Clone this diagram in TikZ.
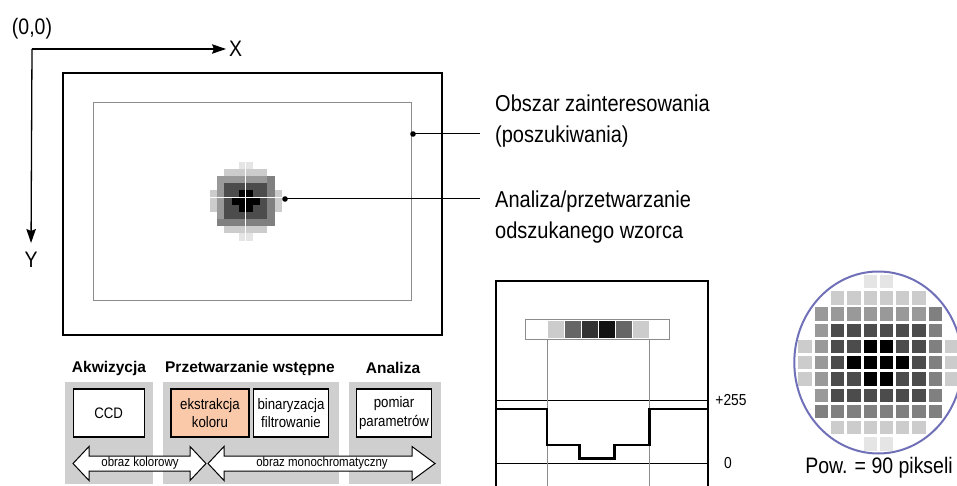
\documentclass[tikz,border=0pt]{standalone}
\usepackage{fontspec}
\setmainfont{Liberation Sans}
\newfontfamily\waski{Liberation Sans}[FakeStretch=0.87]
\usetikzlibrary{arrows.meta,calc}

\definecolor{kolor}{RGB}{250,201,170}
\definecolor{okrag}{RGB}{112,112,184}
\definecolor{panel}{RGB}{207,207,207}

% szarosci pikseli wzorca (0 = brak piksela), wiersz po wierszu
\newcommand{\wzorzec}{{0,0,0,0,10,10,0,0,0,0},{0,0,20,20,20,20,20,20,0,0},
  {0,40,40,40,40,40,40,40,50,0},{0,40,70,70,70,70,70,70,50,0},
  {20,40,70,70,100,100,70,70,50,20},{20,40,70,100,100,100,100,70,50,20},
  {20,40,70,70,100,100,70,70,50,20},{0,40,70,70,70,70,70,70,50,0},
  {0,50,50,50,50,50,50,50,50,0},{0,0,20,20,20,20,20,20,0,0},
  {0,0,0,0,10,10,0,0,0,0}}

\tikzset{
  os/.style={inner sep=0pt,font=\waski\fontsize{22.4}{26}\selectfont},
  lbl/.style={inner sep=0pt,align=left,font=\waski\fontsize{23}{31}\selectfont},
  skala/.style={inner sep=0pt,font=\waski\fontsize{15.9}{18}\selectfont},
  naglowek/.style={inner sep=0pt,font=\bfseries\fontsize{15.5}{18}\selectfont},
  blok/.style={draw,line width=1.2pt,fill=white,minimum height=48pt,inner sep=0pt,
    align=center,font=\waski\fontsize{15.2}{18.5}\selectfont},
  strz/.style={draw,fill=white,line width=1pt,line join=miter},
  opisstrz/.style={inner sep=0pt,font=\waski\fontsize{13.2}{15}\selectfont},
  kropka/.style={fill=black}
}

\begin{document}
\begin{tikzpicture}[x=1pt,y=-1pt]
  \useasboundingbox (0,0) rectangle (957,486);

  % osie ukladu
  \coordinate (o) at (32,49);
  \node[os] (poczatek) at (32,29) {(0,0)};
  \node[os,anchor=west] (osx) at (229,49) {X};
  \node[os,anchor=north] (osy) at (31,252) {Y};
  \draw[line width=1.3pt,-{Stealth[length=14pt,width=9.5pt,inset=2pt]},shorten >=3pt] (o) -- (osx.west);
  \draw[line width=1.3pt,-{Stealth[length=14pt,width=9.5pt,inset=2pt]},shorten >=9pt] (o) -- (osy.north);

  % obraz i obszar zainteresowania
  \draw[line width=2pt] (63,73) rectangle (442,335);
  \draw[black!45,line width=1pt] (93,103) rectangle (411,300);

  % odszukany wzorzec (male piksele)
  \foreach \wiersz [count=\r from 0] in \wzorzec {
    \foreach \g [count=\c from 0] in \wiersz {
      \ifnum\g>0
        \fill[black!\g] ({210+\c*7.17},{161.7+\r*7.17}) rectangle ++(7.17,7.17);
      \fi
    }
  }
  \draw[white,line width=0.8pt] (245.85,161.7) -- (245.85,240.5);
  \draw[white,line width=0.8pt] (210,197.55) -- (281.7,197.55);

  % opisy z odnosnikami
  \coordinate (obszar) at (413,134);
  \coordinate (wzor) at (285,199);
  \node[lbl,anchor=west] (opisobszar) at (495,121) {Obszar zainteresowania\\(poszukiwania)};
  \node[lbl,anchor=west] (opiswzor) at (495,217) {Analiza/przetwarzanie\\odszukanego wzorca};
  \draw[line width=1pt,shorten >=15pt] (obszar) -- (obszar -| opisobszar.west);
  \draw[line width=1pt,shorten >=15pt] (wzor) -- (wzor -| opiswzor.west);
  \fill[kropka] (obszar) circle (2.8);
  \fill[kropka] (wzor) circle (2.8);

  % profil jasnosci
  \draw[line width=1.3pt] (496,486) -- (496,281) -- (708,281) -- (708,486);
  \draw[line width=0.9pt] (496,400) -- (708,400);
  \draw[line width=0.9pt] (496,463) -- (708,463);
  \draw[black!45,line width=0.8pt] (547,339) -- (547,486);
  \draw[black!45,line width=0.8pt] (649.7,339) -- (649.7,486);
  \draw[black!45,line width=1pt,fill=white] (525,319) rectangle (669,339);
  \foreach \g [count=\i from 0] in {20,60,80,93,60,20}
    \fill[black!\g] ({547.5+\i*17},320.5) rectangle ++(16,17);
  \draw[line width=2.6pt] (496,409) -- (547,409) -- (547,445) -- (579.3,445) -- (579.3,458.3)
    -- (614.7,458.3) -- (614.7,445) -- (649.7,445) -- (649.7,409) -- (708,409);
  \node[skala] (maks) at (731,400) {+255};
  \node[skala] (zero) at (728,463) {0};

  % powiekszony wzorzec
  \foreach \wiersz [count=\r from 0] in \wzorzec {
    \foreach \g [count=\c from 0] in \wiersz {
      \ifnum\g>0
        \fill[black!\g] ({798.3+\c*16.3},{275+\r*16.23}) rectangle ++(13.3,13.3);
      \fi
    }
  }
  \draw[okrag,line width=2pt] (878.3,362.5) ellipse [x radius=84,y radius=91];
  \node[os] (pow) at (879,468) {Pow. = 90 pikseli};

  % etapy przetwarzania
  \node[naglowek] (akwizycja) at (109,368) {Akwizycja};
  \node[naglowek] (wstepne) at (250,368) {Przetwarzanie wstępne};
  \node[naglowek] (analiza) at (393,368) {Analiza};
  \fill[panel] (65,382) rectangle (153,484);
  \fill[panel] (163,382) rectangle (339,484);
  \fill[panel] (349,382) rectangle (441,484);
  \node[blok,minimum width=71pt] (ccd) at (108.7,413) {CCD};
  \node[blok,fill=kolor,minimum width=78pt] (ekstr) at (210,413) {ekstrakcja\\koloru};
  \node[blok,minimum width=75.5pt] (binar) at (291,413) {binaryzacja\\filtrowanie};
  \node[blok,minimum width=75.5pt] (pomiar) at (394,413) {pomiar\\parametrów};

  \draw[strz] (73,463.5) -- (89,446.5) -- (89,456) -- (190,456) -- (190,446.5) -- (206,463.5)
    -- (190,480.5) -- (190,471) -- (89,471) -- (89,480.5) -- cycle;
  \draw[strz] (208,463.5) -- (224,446.5) -- (224,456) -- (412,456) -- (412,446.5) -- (435,463.5)
    -- (412,480.5) -- (412,471) -- (224,471) -- (224,480.5) -- cycle;
  \node[opisstrz] (kolorowy) at (140,463.5) {obraz kolorowy};
  \node[opisstrz] (mono) at (322,463.5) {obraz monochromatyczny};
\end{tikzpicture}
\end{document}
